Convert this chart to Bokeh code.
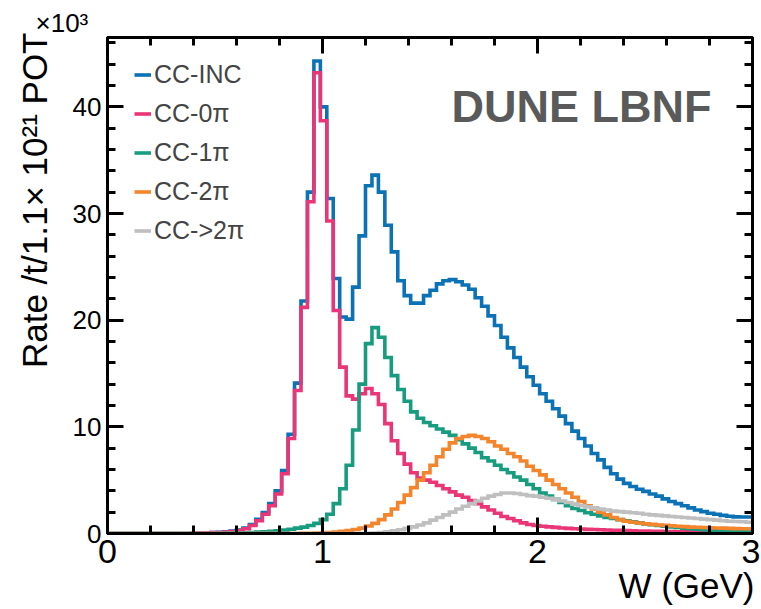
import numpy as np
from bokeh.plotting import figure
from bokeh.models import (FixedTicker, LinearAxis, Label, Legend, LegendItem,
                          Range1d, CustomJSTickFormatter, Title)
from bokeh.embed import file_html
from bokeh.resources import INLINE

# ---------------- data (rates in units of 10^3, 0.03 GeV bins from 0 to 3) -------------
W_MIN, W_MAX, N_BINS = 0.0, 3.0, 100
Y_MAX = 46.5

series_names = ["CC-INC", "CC-0π", "CC-1π", "CC-2π", "CC->2π"]

cc_inc = [0]*13 + [
    0.02, 0.04, 0.06, 0.09, 0.12, 0.16, 0.22, 0.33, 0.52, 0.85,
    1.33, 1.97, 2.8, 4.0, 5.9, 9.3, 14.1, 21.8, 32.0, 44.3,
    40.0, 31.4, 23.9, 20.3, 20.1, 23.1, 27.9, 32.6, 33.6, 32.0,
    28.9, 26.4, 23.7, 22.3, 21.6, 21.6, 22.3, 22.8, 23.4, 23.7,
    23.8, 23.6, 23.3, 22.9, 22.1, 21.3, 20.4, 19.5, 18.4, 17.4,
    16.5, 15.6, 14.7, 13.9, 13.1, 12.4, 11.7, 11.0, 10.3, 9.6,
    8.9, 8.2, 7.5, 6.9, 6.2, 5.6, 5.1, 4.7, 4.4, 4.15,
    3.95, 3.7, 3.5, 3.25, 3.0, 2.8, 2.6, 2.4, 2.2, 2.05,
    1.9, 1.8, 1.7, 1.62, 1.56, 1.55, 1.55]

cc_0pi = [0]*13 + [
    0.02, 0.04, 0.06, 0.08, 0.10, 0.13, 0.18, 0.28, 0.45, 0.75,
    1.2, 1.8, 2.6, 3.7, 5.6, 8.9, 13.4, 21.2, 31.1, 43.2,
    38.7, 29.3, 20.9, 15.6, 12.9, 12.6, 13.1, 13.6, 13.1, 12.1,
    10.3, 8.7, 7.5, 6.5, 5.7, 5.2, 5.0, 4.8, 4.5, 4.2,
    3.9, 3.6, 3.4, 3.1, 2.8, 2.5, 2.2, 1.9, 1.6, 1.4,
    1.2, 1.0, 0.85, 0.75, 0.68, 0.62, 0.57, 0.52, 0.48, 0.45,
    0.42, 0.39, 0.37, 0.35, 0.33, 0.31, 0.29, 0.27, 0.25, 0.24,
    0.22, 0.21, 0.2, 0.19, 0.18, 0.17, 0.16, 0.15, 0.14, 0.13,
    0.12, 0.12, 0.11, 0.11, 0.1, 0.1, 0.09]

cc_1pi = [0]*17 + [
    0.02, 0.03, 0.04, 0.05, 0.07, 0.1, 0.13, 0.17, 0.21, 0.26,
    0.32, 0.4, 0.5, 0.6, 0.75, 0.95, 1.3, 1.8, 2.8, 4.2,
    6.4, 9.7, 14.0, 17.8, 19.3, 18.4, 16.5, 14.8, 13.5, 12.4,
    11.4, 10.8, 10.4, 10.1, 9.8, 9.5, 9.2, 8.8, 8.4, 8.0,
    7.6, 7.1, 6.8, 6.4, 6.0, 5.7, 5.3, 5.0, 4.6, 4.2,
    3.8, 3.5, 3.2, 2.9, 2.6, 2.35, 2.15, 1.95, 1.8, 1.65,
    1.5, 1.4, 1.3, 1.2, 1.1, 1.0, 0.9, 0.82, 0.75, 0.68,
    0.62, 0.56, 0.5, 0.45, 0.4, 0.36, 0.32, 0.29, 0.26, 0.24,
    0.22, 0.2, 0.18]

cc_2pi = [0]*30 + [
    0.02, 0.03, 0.05, 0.07, 0.1, 0.14, 0.2, 0.27, 0.37, 0.5,
    0.7, 0.95, 1.3, 1.75, 2.3, 2.9, 3.6, 4.3, 5.0, 5.7,
    6.4, 7.2, 7.9, 8.5, 8.9, 9.1, 9.2, 9.1, 8.9, 8.6,
    8.2, 7.9, 7.5, 7.2, 6.8, 6.3, 5.9, 5.5, 5.0, 4.6,
    4.2, 3.8, 3.4, 3.0, 2.6, 2.3, 2.0, 1.75, 1.5, 1.3,
    1.15, 1.05, 0.98, 0.92, 0.86, 0.8, 0.76, 0.72, 0.68, 0.64,
    0.6, 0.58, 0.56, 0.54, 0.52, 0.5, 0.48, 0.46, 0.45, 0.44]

cc_gt2pi = [0]*40 + [
    0.02, 0.05, 0.1, 0.16, 0.25, 0.35, 0.48, 0.62, 0.8, 1.0,
    1.25, 1.5, 1.75, 2.0, 2.3, 2.55, 2.8, 3.05, 3.3, 3.5,
    3.65, 3.8, 3.8, 3.75, 3.65, 3.55, 3.5, 3.4, 3.3, 3.2,
    3.05, 2.9, 2.75, 2.6, 2.5, 2.4, 2.3, 2.2, 2.1, 2.05,
    2.0, 1.95, 1.9, 1.8, 1.75, 1.7, 1.65, 1.6, 1.55, 1.5,
    1.45, 1.4, 1.35, 1.3, 1.25, 1.2, 1.15, 1.12, 1.1, 1.06]

x_major = [0, 1, 2, 3]
x_minor = [0.2, 0.4, 0.6, 0.8, 1.2, 1.4, 1.6, 1.8, 2.2, 2.4, 2.6, 2.8]
y_major = [0, 10, 20, 30, 40]
y_minor = [2, 4, 6, 8, 12, 14, 16, 18, 22, 24, 26, 28, 32, 34, 36, 38, 42, 44, 46]

x_title = "W (GeV)"
y_title = "Rate /t/1.1× 10²¹ POT"
y_multiplier = "×10³"
tag = "DUNE LBNF"

colors = ["#0b72b5", "#ea3577", "#179c80", "#f3852c", "#bfbfbf"]
FONT = "Liberation Sans"

# ---------------- figure ----------------
p = figure(frame_width=645, frame_height=496, output_backend="svg", toolbar_location=None,
           x_range=Range1d(W_MIN, W_MAX), y_range=Range1d(0, Y_MAX),
           x_axis_type=None, y_axis_type=None,
           min_border_left=105, min_border_top=37, min_border_right=8, min_border_bottom=72)
p.outline_line_color = "black"
p.outline_line_width = 3
p.background_fill_color = "white"
p.border_fill_color = "white"

# "x10^3" multiplier as a left-aligned title shifted to the left of the frame
p.title.text = y_multiplier
p.title.align = "left"
p.title.offset = -72
p.title.standoff = 0
p.title.text_font = FONT
p.title.text_font_size = "26px"
p.title.text_font_style = "normal"
p.title.text_color = "black"


def make_axis(ticks, minor, show_labels, font_size):
    ax = LinearAxis(ticker=FixedTicker(ticks=ticks, minor_ticks=minor))
    ax.axis_line_width = 3
    ax.axis_line_color = "black"
    ax.major_tick_line_width = 3
    ax.minor_tick_line_width = 3
    ax.major_tick_in = 16
    ax.major_tick_out = 0
    ax.minor_tick_in = 8
    ax.minor_tick_out = 0
    if show_labels:
        ax.major_label_text_font = FONT
        ax.major_label_text_font_size = font_size
        ax.major_label_text_color = "black"
        ax.major_label_standoff = 6
    else:
        ax.formatter = CustomJSTickFormatter(code="return ''")
        ax.major_label_text_font_size = "1px"
        ax.major_label_standoff = 0
    return ax


p.add_layout(make_axis(x_major, x_minor, True, "34px"), "below")
p.add_layout(make_axis(y_major, y_minor, True, "26px"), "left")
p.add_layout(make_axis(x_major, x_minor, False, "1px"), "above")
p.add_layout(make_axis(y_major, y_minor, False, "1px"), "right")

# axis titles, aligned to the far ends of the axes as in ROOT
p.add_layout(Title(text=x_title, align="right", vertical_align="top", offset=-2, standoff=0,
                   text_font=FONT, text_font_size="35px", text_font_style="normal",
                   text_color="black"), "below")
p.add_layout(Title(text=y_title, align="right", vertical_align="top", offset=-5, standoff=28,
                   text_font=FONT, text_font_size="35px", text_font_style="normal",
                   text_color="black"), "left")

edges = np.linspace(W_MIN, W_MAX, N_BINS + 1)
series = [cc_inc, cc_0pi, cc_1pi, cc_2pi, cc_gt2pi]
renderers = []
for vals, col in zip(series, colors):
    yv = list(vals) + [vals[-1]]
    r = p.step(x=edges, y=yv, mode="after", line_color=col, line_width=3.6,
               line_join="miter")
    renderers.append(r)

legend = Legend(items=[LegendItem(label=n, renderers=[r]) for n, r in zip(series_names, renderers)],
                location=(27, 288))
legend.label_text_font = FONT
legend.label_text_font_size = "25px"
legend.glyph_width = 17
legend.glyph_height = 29
legend.label_height = 29
legend.label_standoff = 3
legend.spacing = 10
legend.padding = 0
legend.margin = 0
legend.background_fill_alpha = 0
legend.border_line_alpha = 0
p.add_layout(legend)

p.add_layout(Label(x=W_MIN, y=Y_MAX, x_offset=344, y_offset=-69, text=tag,
                   text_align="left", text_baseline="alphabetic",
                   text_font=FONT, text_font_size="45px", text_font_style="bold",
                   text_color="#5a5a5a"))

open("out.html", "w").write(file_html(p, INLINE))
